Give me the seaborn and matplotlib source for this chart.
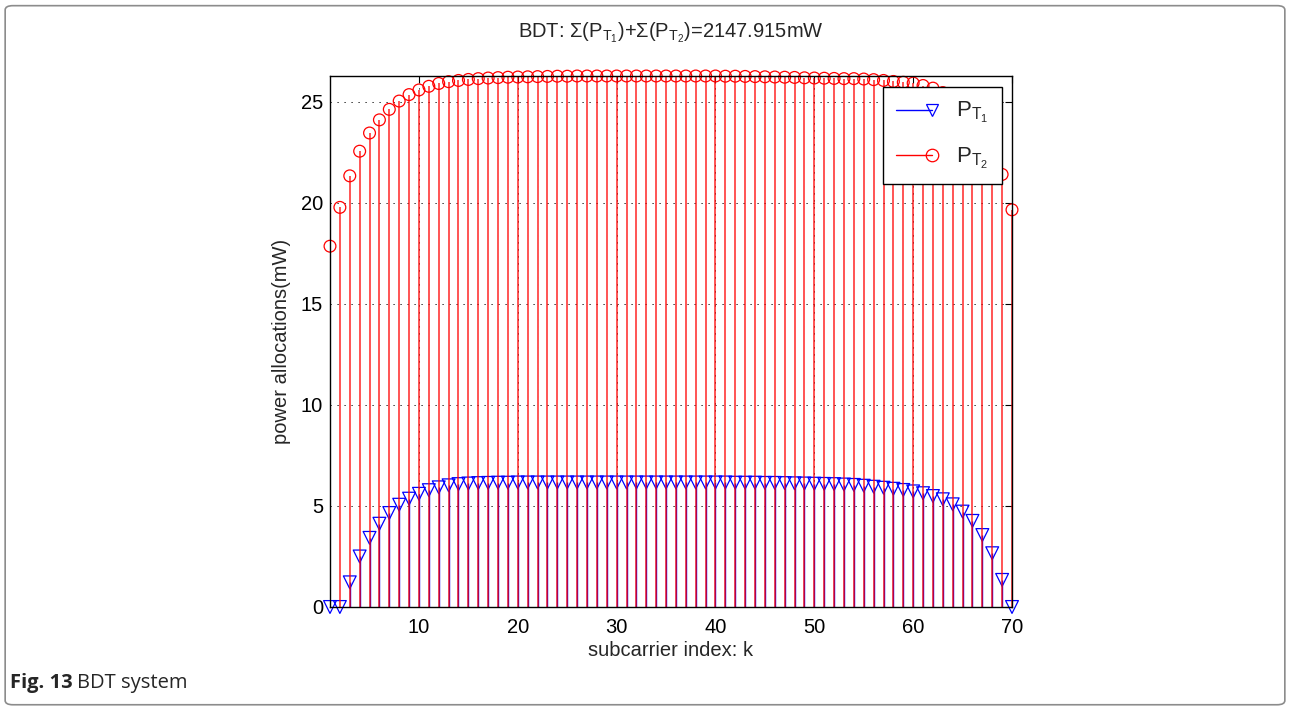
import numpy as np
import pandas as pd
import matplotlib
matplotlib.use("Agg")
import matplotlib.pyplot as plt
import seaborn as sns
from matplotlib.lines import Line2D
from matplotlib.legend_handler import HandlerLine2D
from matplotlib.patches import FancyBboxPatch

# ---------------- data ----------------
subcarrier = list(range(1, 71))
p_t1 = [0.00, 0.00, 1.22, 2.50, 3.42, 4.12, 4.65, 5.06, 5.36, 5.60,
        5.78, 5.92, 6.02, 6.08, 6.11, 6.13, 6.14, 6.15, 6.15, 6.16,
        6.16, 6.16, 6.16, 6.16, 6.16, 6.16, 6.16, 6.16, 6.16, 6.16,
        6.16, 6.16, 6.16, 6.16, 6.16, 6.16, 6.16, 6.16, 6.16, 6.16,
        6.16, 6.15, 6.15, 6.15, 6.14, 6.14, 6.13, 6.12, 6.11, 6.10,
        6.09, 6.08, 6.06, 6.04, 6.00, 5.95, 5.90, 5.85, 5.79, 5.72,
        5.63, 5.49, 5.33, 5.08, 4.72, 4.26, 3.56, 2.66, 1.34, 0.00]
p_t2 = [17.85, 19.77, 21.33, 22.55, 23.45, 24.10, 24.62, 25.03, 25.35, 25.58,
        25.76, 25.90, 25.99, 26.05, 26.10, 26.14, 26.17, 26.19, 26.21, 26.22,
        26.23, 26.24, 26.25, 26.26, 26.26, 26.27, 26.27, 26.27, 26.27, 26.27,
        26.27, 26.27, 26.27, 26.27, 26.27, 26.27, 26.27, 26.27, 26.27, 26.27,
        26.26, 26.26, 26.25, 26.24, 26.23, 26.22, 26.21, 26.20, 26.18, 26.17,
        26.16, 26.15, 26.14, 26.14, 26.12, 26.09, 26.05, 26.00, 25.96, 25.92,
        25.80, 25.67, 25.45, 25.15, 24.75, 24.20, 23.50, 22.60, 21.40, 19.65]
x_ticks = [10, 20, 30, 40, 50, 60, 70]
y_ticks = [0, 5, 10, 15, 20, 25]
title_text = r"BDT: $\Sigma$(P$_{T_1}$)+$\Sigma$(P$_{T_2}$)=2147.915mW"
x_label = "subcarrier index: k"
y_label = "power allocations(mW)"
legend_labels = [r"P$_{T_1}$", r"P$_{T_2}$"]
caption_bold = "Fig. 13"
caption_rest = "BDT system"

df = pd.DataFrame({"k": subcarrier, "P_T1": p_t1, "P_T2": p_t2})

# ---------------- style ----------------
sns.set_theme(style="white")
plt.rcParams["font.family"] = ["Liberation Sans", "DejaVu Sans"]
plt.rcParams["mathtext.fontset"] = "custom"
plt.rcParams["mathtext.rm"] = "Liberation Sans"
plt.rcParams["mathtext.it"] = "Liberation Sans"
plt.rcParams["mathtext.bf"] = "Liberation Sans:bold"
plt.rcParams["mathtext.sf"] = "Liberation Sans"
plt.rcParams["mathtext.default"] = "regular"

fig = plt.figure(figsize=(12.9, 7.09), dpi=100)
fig.patch.set_facecolor("white")

# journal frame
frame = FancyBboxPatch((0.004, 0.006), 0.992, 0.986,
                       boxstyle="round,pad=0,rounding_size=0.006",
                       transform=fig.transFigure, fill=False,
                       edgecolor="#8c8c8c", linewidth=1.2)
fig.add_artist(frame)

ax = fig.add_axes([330 / 1290, 1 - 607 / 709, (1012 - 330) / 1290, (607 - 76) / 709])
ax.set_facecolor("white")

# grid
ax.set_axisbelow(True)
ax.grid(True, color="black", linestyle=(0, (1.2, 6)), linewidth=0.7)

blue = "#0000ff"
red = "#ff0000"

# stems
ax.vlines(df["k"], 0, df["P_T1"], colors=blue, linewidth=1.0, zorder=2)
sns.scatterplot(data=df, x="k", y="P_T1", ax=ax, marker="v", s=85,
                legend=False, zorder=3, clip_on=False)
coll_b = ax.collections[-1]
coll_b.set_facecolor("none")
coll_b.set_edgecolor(blue)
coll_b.set_linewidth(0.9)

ax.vlines(df["k"], 0, df["P_T2"], colors=red, linewidth=1.1, alpha=0.85, zorder=4)
sns.scatterplot(data=df, x="k", y="P_T2", ax=ax, marker="o", s=72,
                legend=False, zorder=5, clip_on=False)
coll_r = ax.collections[-1]
coll_r.set_facecolor("none")
coll_r.set_edgecolor(red)
coll_r.set_linewidth(0.9)

ax.set_xlim(1, 70)
ax.set_ylim(0, max(p_t2))
ax.set_xticks(x_ticks)
ax.set_yticks(y_ticks)
ax.tick_params(axis="both", which="major", direction="in", length=5, width=0.8,
               top=True, right=True, labelsize=14.5, colors="black")
ax.tick_params(axis="x", pad=8)
ax.tick_params(axis="y", pad=5)
for s in ax.spines.values():
    s.set_color("black")
    s.set_linewidth(1.0)
    s.set_zorder(6)

ax.set_xlabel(x_label, fontsize=14.5, labelpad=3)
ax.set_ylabel(y_label, fontsize=14.5, labelpad=7)
ax.set_title(title_text, fontsize=14.5, pad=28)


# legend with MATLAB-like stem handles (marker at right end of line)
class StemHandler(HandlerLine2D):
    def create_artists(self, legend, orig_handle, xdescent, ydescent,
                       width, height, fontsize, trans):
        y = height / 2.0 - ydescent
        x0, x1 = -xdescent, width - xdescent
        line = Line2D([x0, x1], [y, y], color=orig_handle.get_color(),
                      linewidth=orig_handle.get_linewidth())
        mk = Line2D([x1], [y], linestyle="none",
                    marker=orig_handle.get_marker(),
                    markersize=orig_handle.get_markersize(),
                    markerfacecolor="none",
                    markeredgecolor=orig_handle.get_color(),
                    markeredgewidth=0.9)
        line.set_transform(trans)
        mk.set_transform(trans)
        return [line, mk]


h1 = Line2D([], [], color=blue, marker="v", markersize=9, linewidth=1.0)
h2 = Line2D([], [], color=red, marker="o", markersize=9, linewidth=1.0)
leg = ax.legend([h1, h2], legend_labels, loc="upper right",
                bbox_to_anchor=(1002 / 1290, 1 - 87 / 709),
                bbox_transform=fig.transFigure,
                handler_map={h1: StemHandler(), h2: StemHandler()},
                fontsize=16, frameon=True, fancybox=False, framealpha=1,
                edgecolor="black", handlelength=1.6, handletextpad=1.1,
                labelspacing=0.9, borderpad=0.6, borderaxespad=0)
leg.get_frame().set_linewidth(1.0)
leg.set_zorder(10)

# caption
cap_y = 1 - 688 / 709
t1 = fig.text(10 / 1290, cap_y, caption_bold, fontsize=14.5,
              fontweight="bold", family=["Open Sans", "DejaVu Sans"], va="baseline")
fig.canvas.draw()
bb = t1.get_window_extent()
fig.text((bb.x1 + 4) / 1290, cap_y, caption_rest, fontsize=14.5,
         family=["Open Sans", "DejaVu Sans"], va="baseline")

fig.savefig("out.png", dpi=100, facecolor="white")
